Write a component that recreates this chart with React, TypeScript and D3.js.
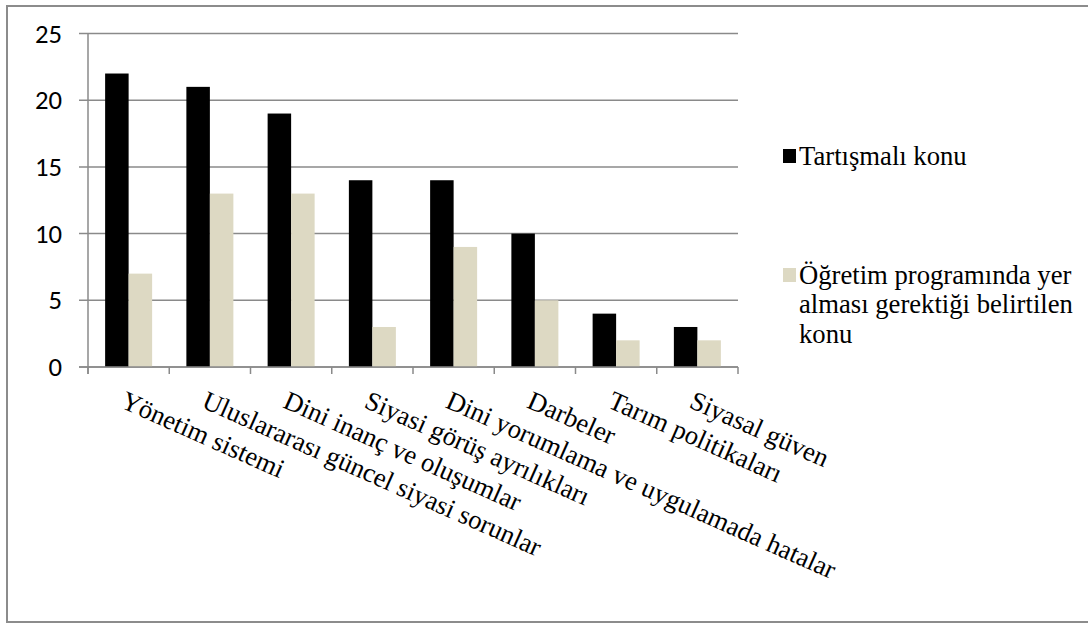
import React from 'react';
import * as d3 from 'd3';

const categories = [
  'Yönetim sistemi',
  'Uluslararası güncel siyasi sorunlar',
  'Dini inanç ve oluşumlar',
  'Siyasi görüş ayrılıkları',
  'Dini yorumlama ve uygulamada hatalar',
  'Darbeler',
  'Tarım politikaları',
  'Siyasal güven',
];
const seriesNames = ['Tartışmalı konu', 'Öğretim programında yer alması gerektiği belirtilen konu'];
const tartismali = [22, 21, 19, 14, 14, 10, 4, 3];
const ogretim = [7, 13, 13, 3, 9, 5, 2, 2];
const yTicks = [0, 5, 10, 15, 20, 25];
const legendLines = [['Tartışmalı konu'], ['Öğretim programında yer', 'alması gerektiği belirtilen', 'konu']];

const colors = ['#000000', '#ddd9c3'];
const W = 1088;
const H = 624;
const SERIF = '"Liberation Serif", "Times New Roman", serif';
const SANS = 'Carlito, Calibri, "Open Sans", sans-serif';
const GRID = '#8a8a8a';

const left = 88, right = 738, top = 33.5, bottom = 367;

const App: React.FC = () => {
  const x = d3.scaleBand().domain(categories).range([left, right]).padding(0);
  const x1 = d3.scaleBand().domain(seriesNames).range([0, 47]).padding(0);
  const y = d3.scaleLinear().domain([0, 25]).range([bottom, top]);
  const offset = (x.bandwidth() - 47) / 2;
  const seriesData = [tartismali, ogretim];
  const bounds = categories.map(c => x(c) as number).concat([right]);
  const legendY = [149, 268];

  return (
    <div style={{ position: 'absolute', left: 0, top: 0, width: W, height: H, background: 'white' }}>
      <svg width={W} height={H} viewBox={`0 0 ${W} ${H}`} style={{ display: 'block' }}>
        {/* chart frame, right edge cut off like the original */}
        <rect x={7} y={6} width={1100} height={616} fill="white" stroke="#8c8c8c" strokeWidth={2} />

        {/* gridlines */}
        {yTicks.map(t => (
          <line key={'g' + t} x1={left - 9} x2={right} y1={y(t)} y2={y(t)} stroke={GRID} strokeWidth={1.5} />
        ))}
        {yTicks.map(t => (
          <text key={'t' + t} x={62} y={y(t) + 9} textAnchor="end"
            style={{ fontFamily: SANS, fontSize: 26.67 }} fill="#000">{t}</text>
        ))}

        <line x1={left} x2={left} y1={top} y2={bottom + 7} stroke={GRID} strokeWidth={1.5} />
        {bounds.map((b, i) => (
          <line key={'b' + i} x1={b} x2={b} y1={bottom} y2={bottom + 7} stroke={GRID} strokeWidth={1.5} />
        ))}

        {/* bars */}
        {seriesData.map((vals, si) => (
          <g key={'s' + si}>
            {vals.map((v, i) => (
              <rect key={i}
                x={(x(categories[i]) as number) + offset + (x1(seriesNames[si]) as number)}
                y={y(v)} width={x1.bandwidth()} height={y(0) - y(v)} fill={colors[si]} />
            ))}
          </g>
        ))}

        <line x1={left - 9} x2={right} y1={bottom} y2={bottom} stroke={GRID} strokeWidth={1.5} />

        {/* category labels */}
        {categories.map(c => (
          <text key={c}
            transform={`translate(${(x(c) as number) + x.bandwidth() / 2 - 9.5}, 407) rotate(24)`}
            style={{ fontFamily: SERIF, fontSize: 26.67 }} fill="#000">{c}</text>
        ))}

        {/* legend */}
        {legendLines.map((lines, i) => (
          <g key={'l' + i}>
            <rect x={783} y={legendY[i]} width={13} height={14} fill={colors[i]} />
            <text style={{ fontFamily: SERIF, fontSize: 26.67 }} fill="#000">
              {lines.map((ln, j) => (
                <tspan key={j} x={799} y={legendY[i] + 15.5 + j * 29.7}>{ln}</tspan>
              ))}
            </text>
          </g>
        ))}
      </svg>
    </div>
  );
};

export default App;
